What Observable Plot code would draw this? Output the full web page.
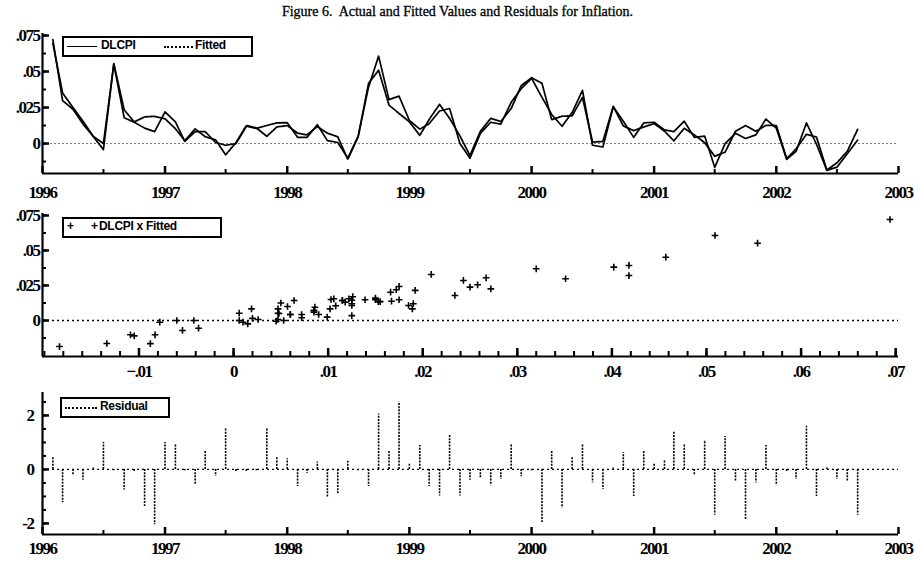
<!DOCTYPE html>
<html><head><meta charset="utf-8">
<script src="https://cdn.jsdelivr.net/npm/d3@7"></script>
<script src="https://cdn.jsdelivr.net/npm/@observablehq/plot@0.6"></script>
<style>
html,body{margin:0;padding:0;background:#fff;}
#wrap{position:relative;width:915px;height:561px;overflow:hidden;background:#fff;}
#wrap svg{position:absolute;left:0;overflow:visible;background:transparent !important;}
#wrap svg text{font-family:"Liberation Serif",serif;font-weight:bold;font-size:17px;letter-spacing:-1.5px;fill:#000;}
.title{position:absolute;left:0;width:915px;top:4px;text-align:center;font:14px "Liberation Serif",serif;color:#000;white-space:pre;-webkit-text-stroke:0.3px #000;}
.legend{position:absolute;border:2px solid #000;background:#fff;box-sizing:border-box;z-index:5;}
.legend span{position:absolute;}
.ltext{top:0;line-height:17px;font:bold 12px "Liberation Sans",sans-serif;letter-spacing:-0.3px;color:#000;}
.solid{height:0;border-top:1.6px solid #000;}
.dotted{height:0;border-top:2px dotted #000;}
.plus{top:0;line-height:17px;font:bold 12px "Liberation Sans",sans-serif;}
</style></head>
<body>
<div id="wrap">
  <div class="title">Figure 6.  Actual and Fitted Values and Residuals for Inflation.</div>
  <div class="legend" style="left:62px;top:36px;width:191px;height:21px">
    <span class="solid" style="left:3px;top:8px;width:30px"></span>
    <span class="ltext" style="left:37px">DLCPI</span>
    <span class="dotted" style="left:100px;top:8px;width:29px"></span>
    <span class="ltext" style="left:131px">Fitted</span>
  </div>
  <div class="legend" style="left:62px;top:217px;width:160px;height:21px">
    <span class="plus" style="left:3px">+</span>
    <span class="plus" style="left:27px">+</span>
    <span class="ltext" style="left:35px">DLCPI x Fitted</span>
  </div>
  <div class="legend" style="left:60px;top:397px;width:110px;height:21px">
    <span class="dotted" style="left:3px;top:8px;width:32px"></span>
    <span class="ltext" style="left:38px">Residual</span>
  </div>
</div>
<script>
// ---- data (monthly, first observation Feb 1996) ----
const startYear = 1996, startMonth = 1;
const dlcpi = [0.0721,0.0298,0.0238,0.0135,0.0050,0.0000,0.0552,0.0179,0.0148,0.0107,
  0.0083,0.0220,0.0150,0.0015,0.0083,0.0083,0.0007,-0.0012,0.0000,0.0120,
  0.0105,0.0125,0.0143,0.0145,0.0043,0.0043,0.0131,0.0020,0.0007,-0.0102,
  0.0052,0.0393,0.0607,0.0305,0.0329,0.0160,0.0100,0.0138,0.0226,0.0243,
  0.0000,-0.0102,0.0071,0.0148,0.0135,0.0286,0.0381,0.0452,0.0321,0.0202,
  0.0120,0.0215,0.0369,-0.0012,-0.0024,0.0255,0.0155,0.0043,0.0143,0.0148,
  0.0095,0.0083,0.0155,0.0043,0.0052,-0.0165,0.0000,0.0071,0.0035,0.0060,
  0.0170,0.0107,-0.0110,-0.0055,0.0143,-0.0005,-0.0186,-0.0164,-0.0071,0.0024];
const fitted = [0.0694,0.0351,0.0250,0.0155,0.0048,-0.0042,0.0554,0.0234,0.0150,0.0185,
  0.0189,0.0172,0.0103,0.0020,0.0102,0.0047,0.0026,-0.0078,0.0006,0.0125,
  0.0108,0.0050,0.0115,0.0125,0.0072,0.0060,0.0118,0.0072,0.0047,-0.0109,
  0.0047,0.0418,0.0509,0.0267,0.0209,0.0150,0.0057,0.0167,0.0272,0.0175,
  0.0053,-0.0083,0.0085,0.0175,0.0153,0.0243,0.0402,0.0457,0.0418,0.0166,
  0.0190,0.0192,0.0320,0.0010,0.0015,0.0258,0.0122,0.0090,0.0115,0.0139,
  0.0086,0.0019,0.0106,0.0060,0.0006,-0.0088,-0.0060,0.0085,0.0125,0.0085,
  0.0126,0.0125,-0.0105,-0.0037,0.0064,0.0045,-0.0184,-0.0134,-0.0054,0.0099];
const residual = [0.47,-1.23,-0.20,-0.40,0.05,1.00,-0.05,-0.76,-0.10,-1.37,
  -2.05,1.00,0.95,-0.05,-0.55,0.67,-0.25,1.53,-0.10,-0.10,
  -0.05,1.53,0.44,0.40,-0.63,-0.15,0.28,-1.06,-0.90,0.30,
  -0.05,-0.63,2.05,0.70,2.50,0.20,0.89,-0.63,-0.98,1.30,
  -0.98,-0.40,-0.33,-0.60,-0.37,0.92,-0.27,-0.05,-1.97,0.70,
  -1.43,0.46,0.93,-0.50,-0.74,0.05,0.62,-1.00,0.70,0.22,
  0.34,1.38,0.93,-0.20,1.07,-1.70,1.22,-0.45,-1.86,-0.50,
  0.89,-0.60,-0.10,-0.37,1.60,-1.00,0.05,-0.37,-0.45,-1.70];

// tick labels
const yearLabels = [1996,1997,1998,1999,2000,2001,2002,2003];
const topYLabels = [0, 0.025, 0.05, 0.075];
const scatterXLabels = [-0.01, 0, 0.01, 0.02, 0.03, 0.04, 0.05, 0.06, 0.07];
const scatterYLabels = [0, 0.025, 0.05, 0.075];
const residYLabels = [-2, 0, 2];

// ---- derived ----
const series = dlcpi.map((d, i) => ({
  date: new Date(Date.UTC(startYear, startMonth + i, 1)),
  dlcpi: d, fitted: fitted[i], residual: residual[i]
}));
const yearDates = yearLabels.map(y => new Date(Date.UTC(y, 0, 1)));
const halfDates = yearLabels.slice(0, -1).map(y => new Date(Date.UTC(y, 6, 1)));
const xTime = [yearDates[0], yearDates[yearDates.length - 1]];
const decFmt = v => v === 0 ? "0" : d3.format("~g")(+v.toFixed(4)).replace("0.", ".");
const rng = (a, b, s) => d3.range(Math.round(a / s), Math.round(b / s) + 1).map(k => +(k * s).toFixed(5));

const W = 915, ML = 42, MR = 17, FW = W - ML - MR;

// inward ticks built from the scale domains: a pixel length converted to data units
function tickMarks(xDom, yDom, frameH, xTicks, yTicks) {
  const x0 = +xDom[0], xSpan = +xDom[1] - x0, y0 = yDom[0], ySpan = yDom[1] - y0;
  const isTime = xDom[0] instanceof Date;
  const xAt = px => isTime ? new Date(x0 + xSpan * px / FW) : x0 + xSpan * px / FW;
  const out = [];
  for (const [ticks, len, sw] of xTicks)
    out.push(Plot.ruleX(ticks.map(t => ({t})), {x: "t", y1: y0, y2: y0 + ySpan * len / frameH, stroke: "#000", strokeWidth: sw}));
  for (const [ticks, len, sw] of yTicks)
    out.push(Plot.ruleY(ticks.map(t => ({t})), {y: "t", x1: xDom[0], x2: xAt(len), stroke: "#000", strokeWidth: sw}));
  return out;
}

const wrap = document.getElementById("wrap");
function place(svg, top) { svg.style.top = top + "px"; wrap.appendChild(svg); }

// ---- panel 1: actual and fitted ----
const yTop = [-0.0208, 0.0764];
place(Plot.plot({
  width: W, height: 180, marginLeft: ML, marginRight: MR, marginTop: 13, marginBottom: 27,
  x: {type: "utc", domain: xTime},
  y: {domain: yTop},
  marks: [
    Plot.ruleY([0], {stroke: "#777", strokeDasharray: "2,2", strokeWidth: 1}),
    Plot.line(series, {x: "date", y: "fitted", stroke: "#000", strokeWidth: 1.8, strokeDasharray: "2,1.2"}),
    Plot.line(series, {x: "date", y: "dlcpi", stroke: "#000", strokeWidth: 1.7}),
    Plot.axisY(topYLabels, {tickSize: 0, tickPadding: 3, tickFormat: decFmt, label: null}),
    Plot.axisX(yearDates, {tickSize: 0, tickPadding: 12, tickFormat: d3.utcFormat("%Y"), label: null}),
    ...tickMarks(xTime, yTop, 140,
      [[yearDates, 7, 2.5], [halfDates, 4, 2]],
      [[topYLabels, 7, 2.5], [rng(-0.0125, 0.075, 0.0125), 4, 2]]),
    Plot.ruleX([xTime[0]], {stroke: "#000", strokeWidth: 2.2}),
    Plot.ruleY([yTop[0]], {stroke: "#000", strokeWidth: 2.2})
  ]
}), 20);

// ---- panel 2: scatter fitted vs actual ----
const xSc = [-0.0202, 0.0703], ySc = [-0.0257, 0.0764];
place(Plot.plot({
  width: W, height: 180, marginLeft: ML, marginRight: MR, marginTop: 13, marginBottom: 24,
  x: {domain: xSc},
  y: {domain: ySc},
  marks: [
    Plot.ruleY([0], {stroke: "#000", strokeDasharray: "2,3", strokeWidth: 1.3}),
    Plot.dot(series, {x: "fitted", y: "dlcpi", symbol: "plus", r: 2.3, stroke: "#000", strokeWidth: 1.6}),
    Plot.axisY(scatterYLabels, {tickSize: 0, tickPadding: 3, tickFormat: decFmt, label: null}),
    Plot.axisX(scatterXLabels, {tickSize: 0, tickPadding: 8, tickFormat: decFmt, label: null}),
    ...tickMarks(xSc, ySc, 143,
      [[scatterXLabels, 8, 2.5], [rng(-0.02, 0.07, 0.002), 5, 2]],
      [[scatterYLabels, 7, 2.5], [rng(-0.0125, 0.075, 0.0125), 4, 2]]),
    Plot.ruleX([xSc[0]], {stroke: "#000", strokeWidth: 2.2}),
    Plot.ruleY([ySc[0]], {stroke: "#000", strokeWidth: 2.2})
  ]
}), 200);

// ---- panel 3: residuals ----
const yRes = [-2.41, 2.85];
place(Plot.plot({
  width: W, height: 181, marginLeft: ML, marginRight: MR, marginTop: 12, marginBottom: 27,
  x: {type: "utc", domain: xTime},
  y: {domain: yRes},
  marks: [
    Plot.ruleY([0], {stroke: "#000", strokeDasharray: "2,3", strokeWidth: 1.3}),
    Plot.ruleX(series, {x: "date", y1: 0, y2: "residual", stroke: "#000", strokeWidth: 1.6, strokeDasharray: "2,1.2"}),
    Plot.axisY(residYLabels, {tickSize: 0, tickPadding: 9, tickFormat: d => String(d), label: null}),
    Plot.axisX(yearDates, {tickSize: 0, tickPadding: 7, tickFormat: d3.utcFormat("%Y"), label: null}),
    ...tickMarks(xTime, yRes, 142,
      [[yearDates, 7, 2.5], [halfDates, 4, 2]],
      [[residYLabels, 7, 2.5], [rng(-2, 2.5, 0.5), 4, 2]]),
    Plot.ruleX([xTime[0]], {stroke: "#000", strokeWidth: 2.2}),
    Plot.ruleY([yRes[0]], {stroke: "#000", strokeWidth: 2.2})
  ]
}), 380);
</script>
</body></html>
